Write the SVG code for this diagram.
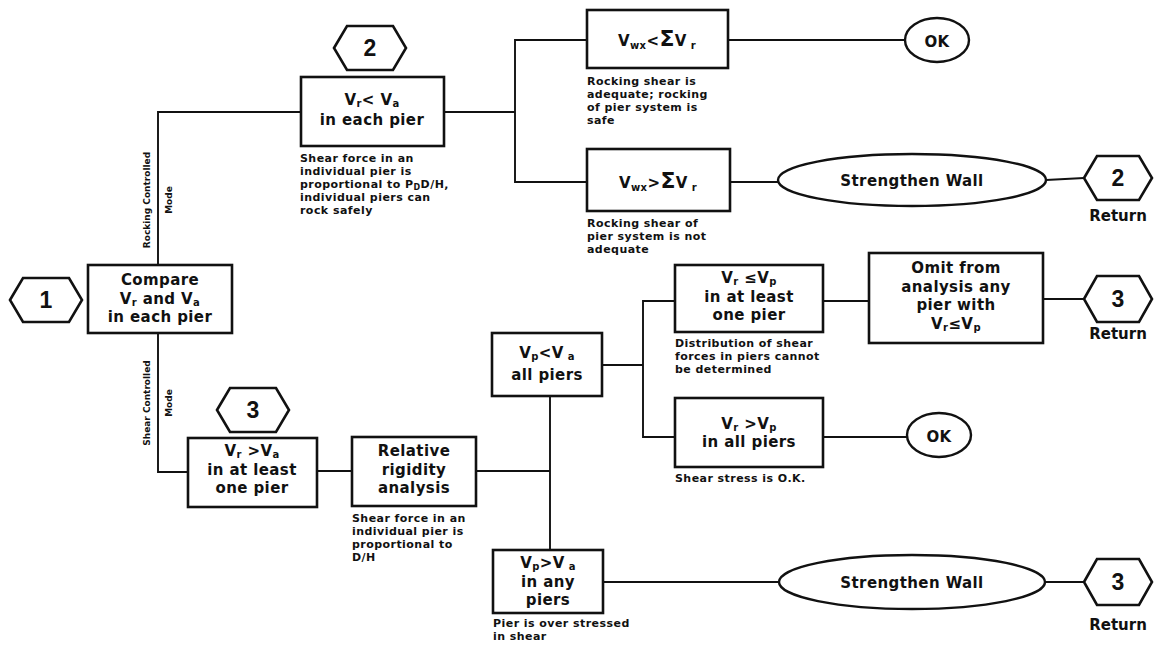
<svg xmlns="http://www.w3.org/2000/svg" width="1158" height="647" viewBox="0 0 1158 647">
<style>
  .box{fill:#fff;stroke:#111;stroke-width:2.6}
  .hex{fill:#fff;stroke:#111;stroke-width:2.6}
  .ell{fill:#fff;stroke:#111;stroke-width:2.4}
  .con{fill:none;stroke:#111;stroke-width:1.9}
  .t{font-family:"DejaVu Sans",sans-serif;font-weight:bold;font-size:15px;letter-spacing:0.4px;fill:#111;text-anchor:middle}
  .cap{font-family:"DejaVu Sans",sans-serif;font-weight:bold;font-size:11px;letter-spacing:0.45px;fill:#111}
  .num{font-family:"Liberation Sans",Arial,sans-serif;font-weight:bold;font-size:23px;fill:#111;text-anchor:middle}
  .ret{font-family:"DejaVu Sans",sans-serif;font-weight:bold;font-size:15px;fill:#111;text-anchor:middle}
  .mode{font-family:"DejaVu Sans",sans-serif;font-weight:bold;font-size:9px;fill:#111;text-anchor:middle}
  .s{font-size:10px}
</style>
<rect width="1158" height="647" fill="#fff"/>
<g id="connectors">
  <polyline class="con" points="301,112 158,112 158,266"/>
  <polyline class="con" points="158,333 158,472 188,472"/>
  <line class="con" x1="444" y1="112" x2="515" y2="112"/>
  <polyline class="con" points="587,40 515,40 515,182 587,182"/>
  <line class="con" x1="728" y1="40" x2="905" y2="40"/>
  <line class="con" x1="730" y1="182" x2="778" y2="182"/>
  <line class="con" x1="1046" y1="180" x2="1084" y2="178"/>
  <line class="con" x1="317" y1="471" x2="352" y2="471"/>
  <line class="con" x1="476" y1="471" x2="550" y2="471"/>
  <line class="con" x1="550" y1="396" x2="550" y2="550"/>
  <line class="con" x1="602" y1="365" x2="643" y2="365"/>
  <polyline class="con" points="675,301 643,301 643,437 675,437"/>
  <line class="con" x1="823" y1="301" x2="869" y2="301"/>
  <line class="con" x1="1043" y1="299" x2="1084" y2="299"/>
  <line class="con" x1="823" y1="437" x2="907" y2="437"/>
  <line class="con" x1="603" y1="582" x2="779" y2="582"/>
  <line class="con" x1="1045" y1="582" x2="1084" y2="582"/>
</g>
<g id="mode-labels">
  <text class="mode" transform="translate(150,200) rotate(-90)">Rocking Controlled</text>
  <text class="mode" transform="translate(172,200) rotate(-90)">Mode</text>
  <text class="mode" transform="translate(150,403) rotate(-90)">Shear Controlled</text>
  <text class="mode" transform="translate(172,403) rotate(-90)">Mode</text>
</g>
<g id="start1">
  <polygon class="hex" points="10,300 23,278 69,278 82,300 69,322 23,322"/>
  <text class="num" x="46" y="308">1</text>
</g>
<g id="compare">
  <rect class="box" x="88" y="265" width="144" height="68"/>
  <text class="t" x="160" y="285">Compare</text>
  <text class="t" x="160" y="303.5">V<tspan class="s" dy="2">r</tspan><tspan dy="-2"> and V</tspan><tspan class="s" dy="2">a</tspan></text>
  <text class="t" x="160" y="322">in each pier</text>
</g>
<g id="hex2">
  <polygon class="hex" points="334,48 347,26 393,26 406,48 393,70 347,70"/>
  <text class="num" x="370" y="56">2</text>
</g>
<g id="vr-lt-va">
  <rect class="box" x="301" y="77" width="143" height="69"/>
  <text class="t" x="372" y="105">V<tspan class="s" dy="2">r</tspan><tspan dy="-2">&lt; V</tspan><tspan class="s" dy="2">a</tspan></text>
  <text class="t" x="372" y="125">in each pier</text>
  <text class="cap" x="300" y="162">Shear force in an</text>
  <text class="cap" x="300" y="175">individual pier is</text>
  <text class="cap" x="300" y="188">proportional to P<tspan font-size="8" dy="1.5">D</tspan><tspan dy="-1.5">D/H,</tspan></text>
  <text class="cap" x="300" y="201">individual piers can</text>
  <text class="cap" x="300" y="214">rock safely</text>
</g>
<g id="vwx-lt">
  <rect class="box" x="587" y="10" width="141" height="58"/>
  <text class="t" x="657" y="46" font-size="18">V<tspan class="s" dy="3">wx</tspan><tspan dy="-3">&lt;</tspan><tspan font-size="22">Σ</tspan>V<tspan class="s" dy="3"> r</tspan></text>
  <text class="cap" x="587" y="85">Rocking shear is</text>
  <text class="cap" x="587" y="98">adequate; rocking</text>
  <text class="cap" x="587" y="111">of pier system is</text>
  <text class="cap" x="587" y="124">safe</text>
</g>
<g id="ok1">
  <ellipse class="ell" cx="937" cy="40" rx="32" ry="22"/>
  <text class="t" x="937" y="47" font-size="20">OK</text>
</g>
<g id="vwx-gt">
  <rect class="box" x="587" y="149" width="143" height="62"/>
  <text class="t" x="658" y="188" font-size="18">V<tspan class="s" dy="3">wx</tspan><tspan dy="-3">&gt;</tspan><tspan font-size="22">Σ</tspan>V<tspan class="s" dy="3"> r</tspan></text>
  <text class="cap" x="587" y="227">Rocking shear of</text>
  <text class="cap" x="587" y="240">pier system is not</text>
  <text class="cap" x="587" y="253">adequate</text>
</g>
<g id="strengthen1">
  <ellipse class="ell" cx="912" cy="180" rx="134" ry="26"/>
  <text class="t" x="912" y="186" font-size="16">Strengthen Wall</text>
</g>
<g id="return2">
  <polygon class="hex" points="1084,178 1097,156 1139,156 1152,178 1139,200 1097,200"/>
  <text class="num" x="1118" y="186">2</text>
  <text class="ret" x="1118" y="221">Return</text>
</g>
<g id="hex3">
  <polygon class="hex" points="217,410 230,388 276,388 289,410 276,432 230,432"/>
  <text class="num" x="253" y="418">3</text>
</g>
<g id="vr-gt-va">
  <rect class="box" x="188" y="438" width="129" height="69"/>
  <text class="t" x="252" y="456">V<tspan class="s" dy="2">r</tspan><tspan dy="-2"> &gt;V</tspan><tspan class="s" dy="2">a</tspan></text>
  <text class="t" x="252" y="474.5">in at least</text>
  <text class="t" x="252" y="493">one pier</text>
</g>
<g id="relative">
  <rect class="box" x="352" y="437" width="124" height="69"/>
  <text class="t" x="414" y="456">Relative</text>
  <text class="t" x="414" y="474.5">rigidity</text>
  <text class="t" x="414" y="493">analysis</text>
  <text class="cap" x="352" y="522">Shear force in an</text>
  <text class="cap" x="352" y="535">individual pier is</text>
  <text class="cap" x="352" y="548">proportional to</text>
  <text class="cap" x="352" y="561">D/H</text>
</g>
<g id="vp-lt-va">
  <rect class="box" x="492" y="333" width="110" height="63"/>
  <text class="t" x="547" y="358">V<tspan class="s" dy="2">p</tspan><tspan dy="-2">&lt;V</tspan><tspan class="s" dy="2"> a</tspan></text>
  <text class="t" x="547" y="380">all piers</text>
</g>
<g id="vr-le-vp">
  <rect class="box" x="675" y="265" width="148" height="67"/>
  <text class="t" x="749" y="283">V<tspan class="s" dy="2">r</tspan><tspan dy="-2"> ≤V</tspan><tspan class="s" dy="2">p</tspan></text>
  <text class="t" x="749" y="301.5">in at least</text>
  <text class="t" x="749" y="320">one pier</text>
  <text class="cap" x="675" y="347">Distribution of shear</text>
  <text class="cap" x="675" y="360">forces in piers cannot</text>
  <text class="cap" x="675" y="373">be determined</text>
</g>
<g id="omit">
  <rect class="box" x="869" y="253" width="174" height="90"/>
  <text class="t" x="956" y="273">Omit from</text>
  <text class="t" x="956" y="291.5">analysis any</text>
  <text class="t" x="956" y="310">pier with</text>
  <text class="t" x="956" y="329">V<tspan class="s" dy="2">r</tspan><tspan dy="-2">≤V</tspan><tspan class="s" dy="2">p</tspan></text>
</g>
<g id="return3a">
  <polygon class="hex" points="1084,299 1097,276 1139,276 1152,299 1139,322 1097,322"/>
  <text class="num" x="1118" y="307">3</text>
  <text class="ret" x="1118" y="339">Return</text>
</g>
<g id="vr-gt-vp">
  <rect class="box" x="675" y="398" width="148" height="69"/>
  <text class="t" x="749" y="429">V<tspan class="s" dy="2">r</tspan><tspan dy="-2"> &gt;V</tspan><tspan class="s" dy="2">p</tspan></text>
  <text class="t" x="749" y="447">in all piers</text>
  <text class="cap" x="675" y="482">Shear stress is O.K.</text>
</g>
<g id="ok2">
  <ellipse class="ell" cx="939" cy="435" rx="32" ry="22"/>
  <text class="t" x="939" y="442" font-size="20">OK</text>
</g>
<g id="vp-gt-va">
  <rect class="box" x="493" y="550" width="110" height="63"/>
  <text class="t" x="548" y="568">V<tspan class="s" dy="2">p</tspan><tspan dy="-2">&gt;V</tspan><tspan class="s" dy="2"> a</tspan></text>
  <text class="t" x="548" y="586.5">in any</text>
  <text class="t" x="548" y="605">piers</text>
  <text class="cap" x="493" y="627">Pier is over stressed</text>
  <text class="cap" x="493" y="640">in shear</text>
</g>
<g id="strengthen2">
  <ellipse class="ell" cx="912" cy="582" rx="133" ry="27"/>
  <text class="t" x="912" y="588" font-size="16">Strengthen Wall</text>
</g>
<g id="return3b">
  <polygon class="hex" points="1084,582 1097,559 1139,559 1152,582 1139,605 1097,605"/>
  <text class="num" x="1118" y="590">3</text>
  <text class="ret" x="1118" y="630">Return</text>
</g>
</svg>
